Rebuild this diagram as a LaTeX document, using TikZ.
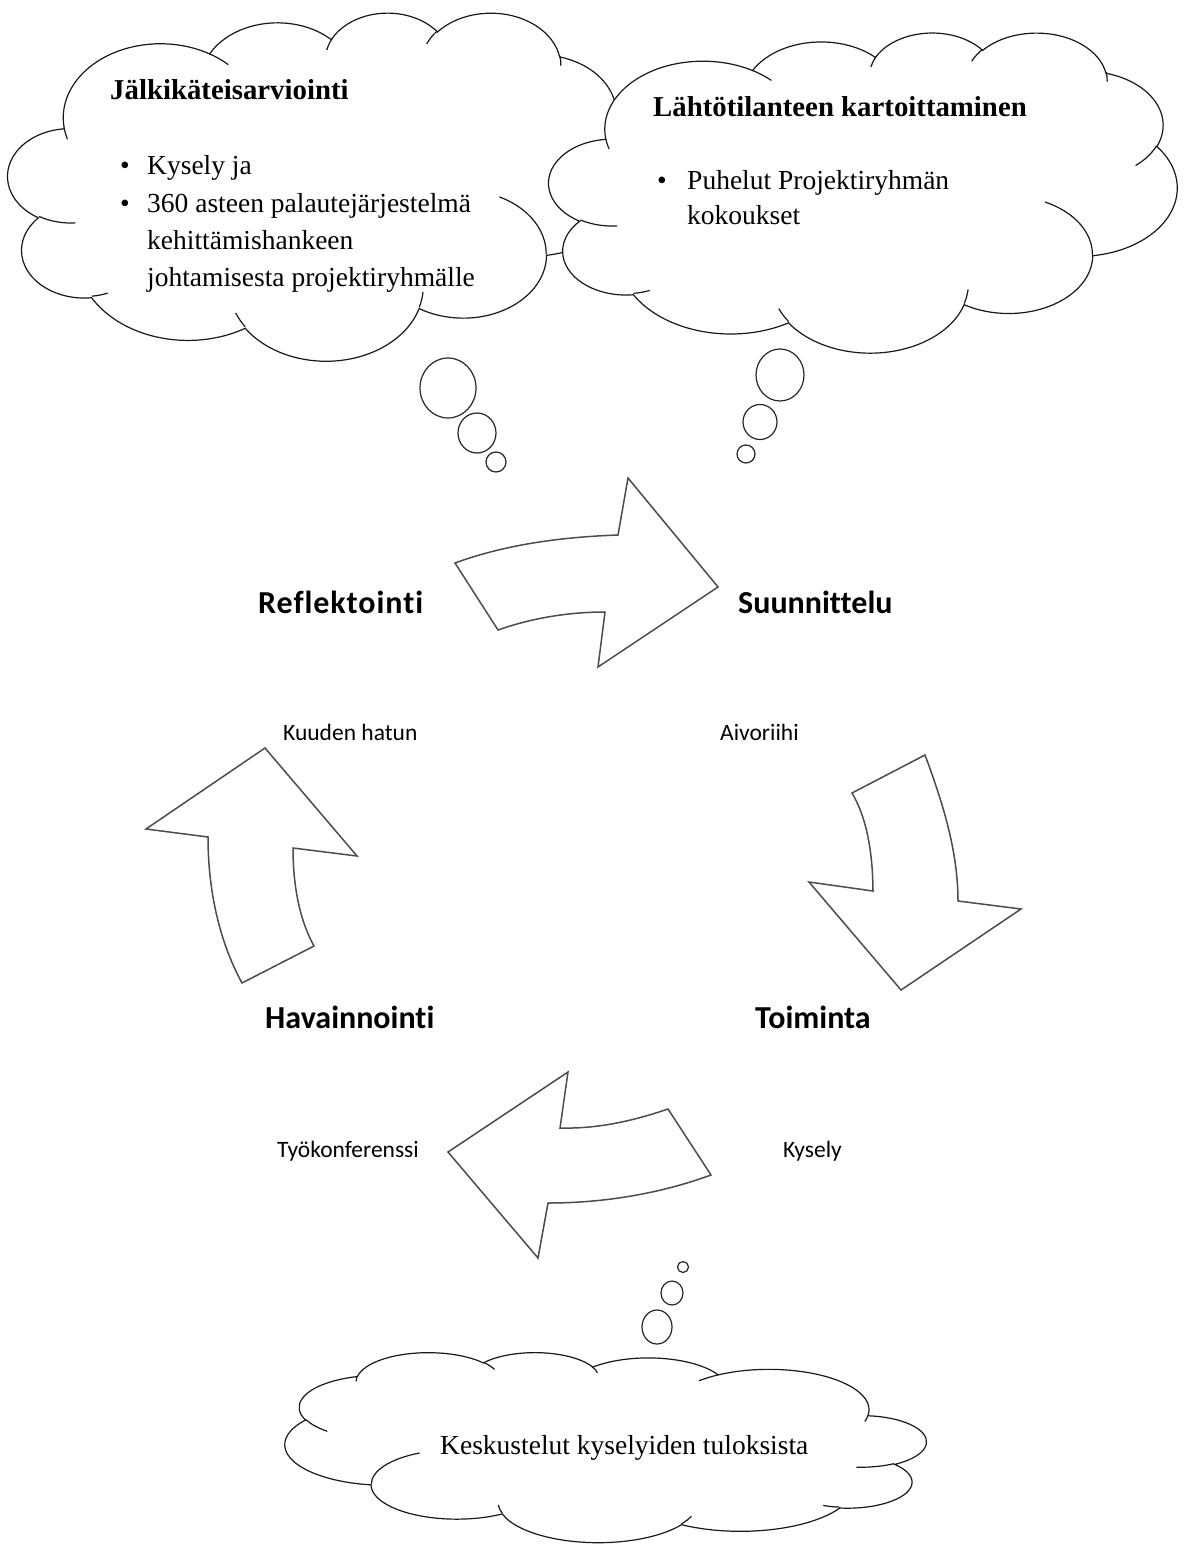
\documentclass[tikz,border=0pt]{standalone}
\usepackage{fontspec}
\setmainfont{Liberation Serif}
\newfontfamily\labelfont[Ligatures=NoCommon]{Carlito}
\pgfmathdeclarefunction{ooang}{3}{\pgfmathparse{(#1)+mod(atan2((#2)*sin(#1),(#3)*cos(#1))-(#1)+540,360)-180}}
\newcommand\ooarc[4]{arc[x radius=#1, y radius=#2, start angle={ooang(#3,#1,#2)}, end angle={ooang(#3+#4,#1,#2)}]}
\newcommand\oocloudouter{(39.00,143.70)
 \ooarc{67.53}{91.90}{-190.4875}{123.7805}
 \ooarc{53.33}{72.67}{-144.1024}{89.9452}
 \ooarc{43.65}{59.45}{-145.8079}{99.7230}
 \ooarc{48.57}{65.95}{-130.9861}{117.2417}
 \ooarc{53.33}{72.73}{-78.7089}{109.0269}
 \ooarc{67.75}{92.20}{-46.2673}{130.2690}
 \ooarc{57.85}{78.67}{0.6250}{114.0333}
 \ooarc{67.52}{92.15}{22.4516}{115.1726}
 \ooarc{77.20}{105.43}{66.2426}{75.7110}
 \ooarc{43.60}{59.18}{-274.9421}{146.7356}
 \ooarc{43.45}{59.45}{-246.8285}{152.5189}
 -- cycle}
\newcommand\oocloudinner{(46.93,261.77) \ooarc{43.45}{59.45}{86.7420}{26.4295}
 (69.28,348.99) \ooarc{43.60}{59.18}{73.6105}{11.4475}
 (164.78,390.90) \ooarc{67.52}{92.15}{137.6242}{14.0811}
 (288.27,347.51) \ooarc{67.52}{92.15}{6.4533}{15.9984}
 (341.29,229.54) \ooarc{57.85}{78.67}{-70.2924}{70.9174}
 (417.98,153.54) \ooarc{53.33}{72.73}{30.3180}{27.7515}
 (383.24,54.26) \ooarc{48.57}{65.95}{-13.7443}{14.8589}
 (290.78,39.52) \ooarc{48.57}{65.95}{-149.1815}{18.1954}
 (221.41,47.20) \ooarc{43.65}{59.45}{-163.4943}{17.6864}
 (140.00,51.92) \ooarc{67.53}{91.90}{-66.7070}{12.3194}
 (41.27,157.89) \ooarc{67.53}{91.90}{157.6544}{11.8582}}
\newcommand\oocloud[4]{%
  \pgfmathsetmacro\ooxu{(#3)/432}%
  \pgfmathsetmacro\ooyu{-(#4)/432}%
  \begin{scope}[shift={(#1,#2)}, x=\ooxu pt, y=\ooyu pt]
    \draw[cloudline, fill=white] \oocloudouter;
    \draw[cloudline] \oocloudinner;
  \end{scope}}
\begin{document}
\begin{tikzpicture}[x=1pt,y=-1pt,
  cloudline/.style={draw=black!90, line width=1.2pt},
  bubble/.style={draw=black!85, line width=1.2pt, fill=white},
  bigarrow/.style={draw=black!70, line width=1.5pt, fill=white, line join=miter},
  ctext/.style={font=\fontsize{27.5}{33}\selectfont, anchor=base west, inner sep=0pt},
  ctitle/.style={font=\fontsize{28.8}{34}\selectfont\bfseries, anchor=base west, inner sep=0pt},
  steplabel/.style={font=\labelfont\bfseries\fontsize{32}{38}\selectfont, anchor=base west, inner sep=0pt},
  methodlabel/.style={font=\labelfont\fontsize{23.5}{28}\selectfont, anchor=base west, inner sep=0pt}]
\useasboundingbox (0,0) rectangle (1185,1546);
\fill[white] (0,0) rectangle (1185,1546);

% clouds
\oocloud{8}{12}{622}{348}
\oocloud{549}{32}{628}{320}
\oocloud{926}{1352}{-641}{190}

% thought bubbles
\draw[bubble] (448,388) ellipse [x radius=28, y radius=30];
\draw[bubble] (477,433) ellipse [x radius=19, y radius=20];
\draw[bubble] (496,462) ellipse [x radius=10, y radius=10];
\draw[bubble] (780,375) ellipse [x radius=24, y radius=26];
\draw[bubble] (760,422) ellipse [x radius=17, y radius=17.5];
\draw[bubble] (746,454) ellipse [x radius=9, y radius=9];
\draw[bubble] (683,1267) ellipse [x radius=5.5, y radius=5.5];
\draw[bubble] (672,1293) ellipse [x radius=11, y radius=12];
\draw[bubble] (657,1327) ellipse [x radius=15, y radius=17];

% cloud texts
\node[ctitle] (t1) at (110,100) {Jälkikäteisarviointi};
\node[ctext] (b1) at (120,175) {•};
\node[ctext] (l1) at (147,175) {Kysely ja};
\node[ctext] (b2) at (120,213) {•};
\node[ctext] (l2) at (147,213) {360 asteen palautejärjestelmä};
\node[ctext] (l3) at (147,250) {kehittämishankeen};
\node[ctext] (l4) at (147,286) {johtamisesta projektiryhmälle};

\node[ctitle] (t2) at (653,117) {Lähtötilanteen kartoittaminen};
\node[ctext] (b3) at (657,190) {•};
\node[ctext] (r1) at (687,190) {Puhelut Projektiryhmän};
\node[ctext] (r2) at (687,225) {kokoukset};

\node[ctext] (k1) at (440,1454) {Keskustelut kyselyiden tuloksista};

% cycle arrows
\draw[bigarrow] (455,563) .. controls (507,544) and (563,537) .. (618,535) -- (628,478) -- (718,587) -- (598,667) -- (605,612) .. controls (569,612) and (532,618) .. (498,630) -- cycle;
\draw[bigarrow] (852,793) .. controls (868.5,821) and (872.7,858) .. (873,891) -- (809,882) -- (901,990) -- (1021,909) -- (958,901) .. controls (958,851) and (942.5,802) .. (925,755) -- cycle;
\draw[bigarrow] (265,748) -- (357,856) -- (293,848) .. controls (293,881) and (298,917) .. (314,946) -- (242,983) .. controls (218,939) and (208,887) .. (208,837) -- (146,829) -- cycle;
\draw[bigarrow] (568,1072) -- (560,1128) .. controls (597,1129) and (633,1121) .. (668,1109) -- (711,1175) .. controls (659,1194) and (603,1203) .. (548,1203) -- (538,1258) -- (448,1152) -- cycle;

% step labels
\node[steplabel] (refl) at (258,613) {\addfontfeature{LetterSpace=3}Reflektointi};
\node[steplabel] (suun) at (738,613) {Suunnittelu};
\node[steplabel] (hava) at (265,1028) {Havainnointi};
\node[steplabel] (toim) at (755,1028) {Toiminta};

\node[methodlabel] (m1) at (283,740) {Kuuden hatun};
\node[methodlabel] (m2) at (720,740) {Aivoriihi};
\node[methodlabel] (m3) at (277,1157) {Työkonferenssi};
\node[methodlabel] (m4) at (783,1157) {Kysely};
\end{tikzpicture}
\end{document}
